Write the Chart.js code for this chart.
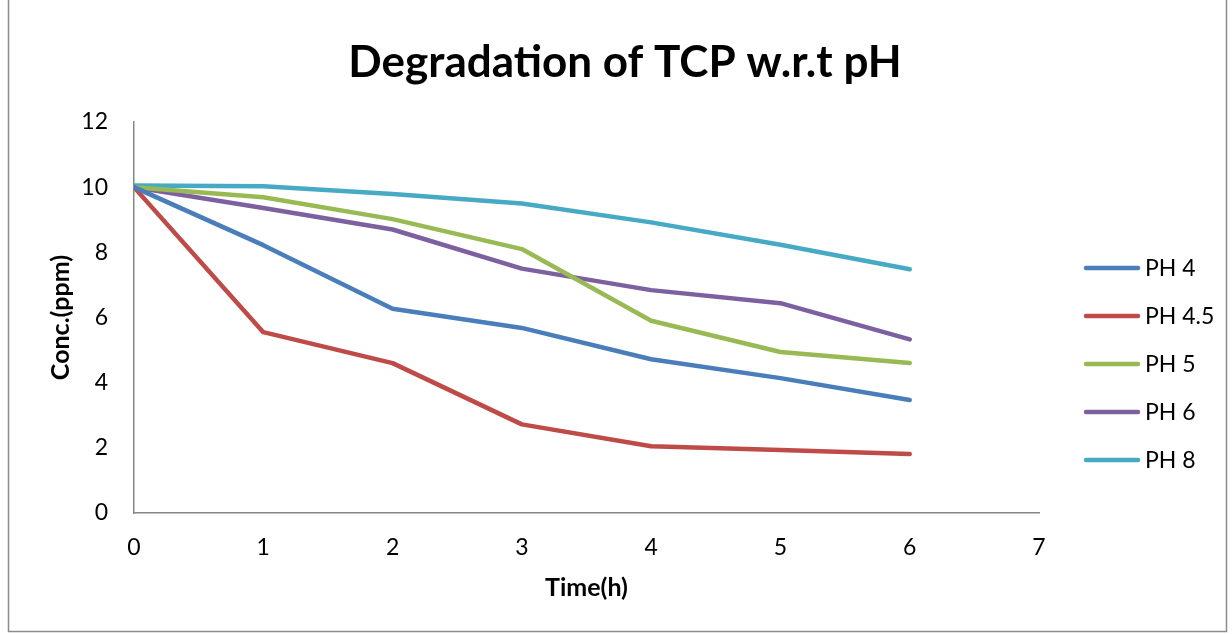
<!DOCTYPE html>
<html>
<head>
<meta charset="utf-8">
<title>Degradation of TCP w.r.t pH</title>
<script src="https://cdn.jsdelivr.net/npm/chart.js@4/dist/chart.umd.min.js"></script>
<style>
  html, body { margin: 0; padding: 0; background: #fff; }
</style>
</head>
<body>
<canvas id="myChart" width="1232" height="634"></canvas>
<script>
// sampling times (h)
var hours = [0, 1, 2, 3, 4, 5, 6];

// TCP concentration (ppm) at each pH
var ph4 = [10, 8.22, 6.27, 5.68, 4.72, 4.14, 3.47];
var ph45 = [10, 5.55, 4.6, 2.72, 2.05, 1.93, 1.81];
var ph5 = [10, 9.69, 9.02, 8.1, 5.9, 4.94, 4.6];
var ph6 = [10, 9.36, 8.7, 7.5, 6.84, 6.44, 5.33];
var ph8 = [10.05, 10.03, 9.79, 9.5, 8.92, 8.23, 7.48];

var seriesNames = ["PH 4", "PH 4.5", "PH 5", "PH 6", "PH 8"];
var seriesColors = ["#4a7ebb", "#be4b48", "#98b954", "#7d60a0", "#46aac5"];

var xTickLabels = [0, 1, 2, 3, 4, 5, 6, 7];
var yTickLabels = [0, 2, 4, 6, 8, 10, 12];

var chartTitle = "Degradation of TCP w.r.t pH";
var FONT = "Lato, 'Open Sans', sans-serif";

function toPoints(values) {
  return hours.map((h, i) => ({ x: h, y: values[i] }));
}

const datasets = [ph4, ph45, ph5, ph6, ph8].map((values, i) => ({
  label: seriesNames[i],
  data: toPoints(values),
  borderColor: seriesColors[i],
  backgroundColor: seriesColors[i],
  borderWidth: 4.5,
  borderCapStyle: "round",
  borderJoinStyle: "round",
  pointRadius: 0,
  tension: 0,
  fill: false,
}));

// white page, outer frame and the big heading
const frame = {
  id: "frame",
  beforeDraw(chart) {
    const c = chart.ctx;
    c.save();
    c.fillStyle = "#fff";
    c.fillRect(0, 0, chart.width, chart.height);
    c.strokeStyle = "#8c8c8c";
    c.lineWidth = 1.5;
    c.strokeRect(8.5, -5, 1218, 636.5);
    c.fillStyle = "#000";
    c.font = "bold 44px " + FONT;
    c.textAlign = "center";
    c.textBaseline = "middle";
    c.fillText(chartTitle, 625, 63);
    c.restore();
  },
};

// legend on the right, one line sample per series
const sideLegend = {
  id: "sideLegend",
  afterDraw(chart) {
    const c = chart.ctx;
    c.save();
    c.font = "23px " + FONT;
    c.textBaseline = "middle";
    c.textAlign = "left";
    chart.data.datasets.forEach((ds, i) => {
      const y = 268 + i * 48;
      c.strokeStyle = ds.borderColor;
      c.lineWidth = 4.5;
      c.lineCap = "round";
      c.beginPath();
      c.moveTo(1086, y);
      c.lineTo(1138, y);
      c.stroke();
      c.fillStyle = "#000";
      c.fillText(ds.label, 1145, y + 1);
    });
    c.restore();
  },
};

const ctx = document.getElementById("myChart");
new Chart(ctx, {
  type: "line",
  data: { datasets: datasets },
  plugins: [frame, sideLegend],
  options: {
    responsive: false,
    animation: false,
    layout: { padding: { top: 122, right: 193, bottom: 0, left: 46 } },
    plugins: {
      legend: { display: false },
      tooltip: { enabled: false },
      title: { display: false },
    },
    scales: {
      x: {
        type: "linear",
        min: 0,
        max: 7,
        afterBuildTicks: (axis) => {
          axis.ticks = xTickLabels.map((v) => ({ value: v }));
        },
        afterFit: (axis) => {
          axis.height = 121;
        },
        grid: { display: false },
        border: { display: true, color: "#868686", width: 1.5 },
        ticks: {
          color: "#000",
          font: { family: FONT, size: 23 },
          padding: 13,
        },
        title: {
          display: true,
          text: "Time(h)",
          color: "#000",
          font: { family: FONT, size: 25, weight: "bold" },
          padding: { top: 0, bottom: 31 },
        },
      },
      y: {
        min: 0,
        max: 12,
        afterBuildTicks: (axis) => {
          axis.ticks = yTickLabels.map((v) => ({ value: v }));
        },
        afterFit: (axis) => {
          axis.width = 88;
        },
        grid: { display: false },
        border: { display: true, color: "#868686", width: 1.5 },
        ticks: {
          color: "#000",
          font: { family: FONT, size: 23 },
          padding: 18,
        },
        title: {
          display: true,
          text: "Conc.(ppm)",
          color: "#000",
          font: { family: FONT, size: 25, weight: "bold" },
          padding: { top: 0, bottom: 0 },
        },
      },
    },
  },
});
</script>
</body>
</html>
